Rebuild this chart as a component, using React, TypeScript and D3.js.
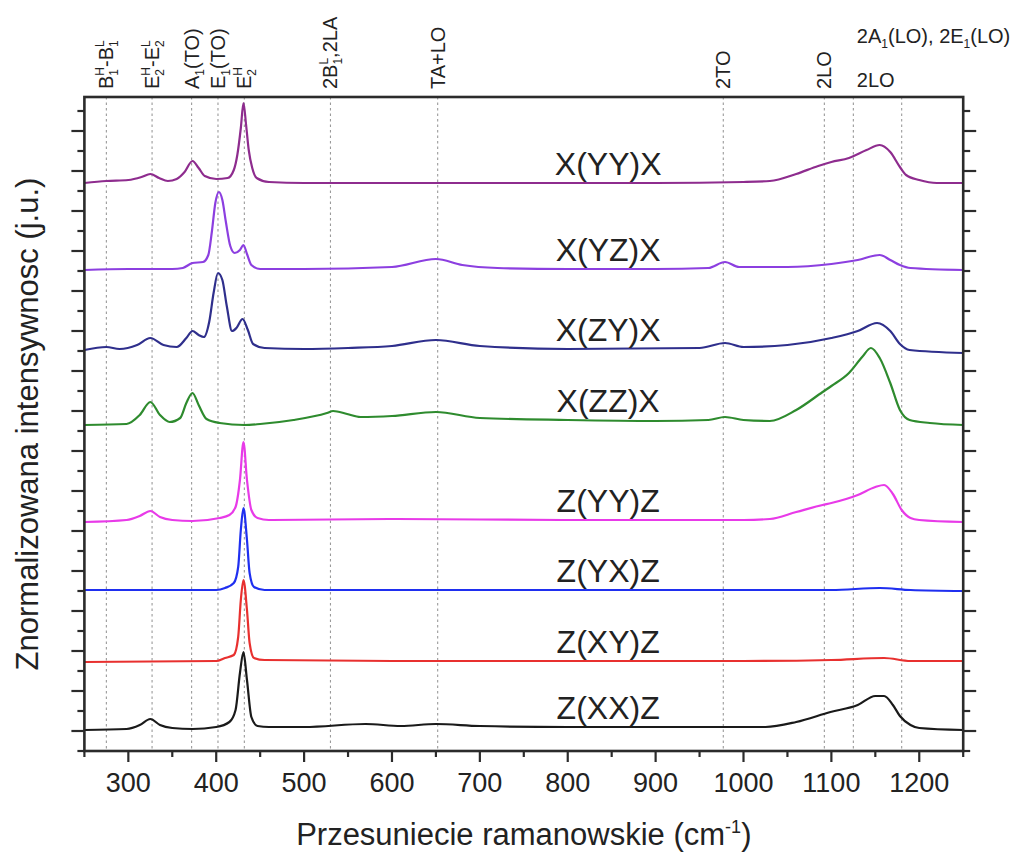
import React from 'react';
import * as d3 from 'd3';

type Pt = [number, number];

// ---- axes / ticks ----
const xDomain: [number, number] = [250, 1250];
const yDomain: [number, number] = [-1, 31.7];
const xMajorTicks = [300, 400, 500, 600, 700, 800, 900, 1000, 1100, 1200];
const xMinorTicks = [250, 350, 450, 550, 650, 750, 850, 950, 1050, 1150, 1250];
const yMajorTicks = [0, 2, 4, 6, 8, 10, 12, 14, 16, 18, 20, 22, 24, 26, 28, 30];
const yMinorTicks = [-1, 1, 3, 5, 7, 9, 11, 13, 15, 17, 19, 21, 23, 25, 27, 29, 31];

// ---- mode positions (dotted lines) ----
const modeLines = [275, 327, 372, 402, 432, 530, 652, 977, 1092, 1125, 1180];

// ---- series ----
const seriesNames = ['X(YY)X', 'X(YZ)X', 'X(ZY)X', 'X(ZZ)X', 'Z(YY)Z', 'Z(YX)Z', 'Z(XY)Z', 'Z(XX)Z'];
const seriesColors = ['#8e2c8e', '#8c3fe0', '#2f2f8c', '#2e8b2e', '#e83ae8', '#1f2ff0', '#e8302f', '#1a1a1a'];

const sXYYX: Pt[] = [
  [250, 27.4], [275, 27.5], [300, 27.55], [315, 27.7], [325, 27.85], [335, 27.65], [345, 27.5], [355, 27.6],
  [364, 27.95], [373, 28.5], [380, 28.15], [387, 27.75], [400, 27.6], [413, 27.65], [420, 28.05], [424, 28.8],
  [428, 30.15], [431, 31.4], [434, 30.3], [437, 29.05], [441, 28.15], [446, 27.65], [460, 27.45], [500, 27.4],
  [600, 27.4], [700, 27.4], [800, 27.4], [900, 27.4], [1000, 27.45], [1030, 27.5], [1060, 27.85], [1085, 28.25],
  [1100, 28.45], [1120, 28.65], [1140, 29.05], [1155, 29.3], [1167, 28.95], [1178, 28.2], [1185, 27.8],
  [1200, 27.55], [1220, 27.4], [1250, 27.4],
];
const sXYZX: Pt[] = [
  [250, 23.05], [300, 23.1], [350, 23.1], [362, 23.15], [373, 23.4], [385, 23.45], [391, 23.8], [395, 24.95],
  [399, 26.4], [403, 26.95], [407, 26.55], [411, 25.45], [416, 24.25], [421, 23.9], [427, 24.05], [431, 24.3],
  [435, 23.85], [440, 23.3], [450, 23.1], [500, 23.1], [600, 23.2], [650, 23.6], [680, 23.3], [720, 23.15],
  [800, 23.1], [900, 23.1], [960, 23.15], [979, 23.45], [995, 23.2], [1050, 23.2], [1100, 23.35], [1130, 23.55],
  [1155, 23.8], [1167, 23.55], [1178, 23.3], [1190, 23.15], [1250, 23.05],
];
const sXZYX: Pt[] = [
  [250, 19.05], [275, 19.2], [290, 19.1], [310, 19.3], [325, 19.65], [340, 19.3], [355, 19.2], [366, 19.65],
  [373, 20.0], [380, 19.8], [386, 19.7], [392, 20.45], [397, 21.9], [402, 22.9], [407, 22.55], [412, 21.25],
  [418, 20.0], [423, 20.15], [430, 20.6], [436, 20.05], [442, 19.35], [455, 19.15], [500, 19.1], [550, 19.15],
  [600, 19.25], [650, 19.55], [700, 19.25], [800, 19.1], [950, 19.15], [979, 19.4], [1000, 19.2], [1050, 19.3],
  [1100, 19.65], [1130, 20.0], [1152, 20.4], [1167, 20.0], [1178, 19.35], [1189, 19.05], [1250, 18.9],
];
const sXZZX: Pt[] = [
  [250, 15.3], [298, 15.35], [313, 15.8], [325, 16.45], [336, 15.8], [347, 15.45], [359, 15.65], [366, 16.4],
  [373, 16.9], [380, 16.3], [389, 15.6], [404, 15.4], [432, 15.3], [450, 15.35], [488, 15.55], [526, 15.9],
  [533, 16.0], [549, 15.85], [564, 15.7], [600, 15.75], [650, 15.95], [700, 15.65], [800, 15.55], [900, 15.5],
  [960, 15.55], [979, 15.7], [1000, 15.55], [1030, 15.5], [1060, 16.05], [1090, 16.95], [1100, 17.25],
  [1120, 17.9], [1135, 18.7], [1145, 19.15], [1155, 18.65], [1167, 17.4], [1178, 16.05], [1189, 15.55],
  [1212, 15.4], [1250, 15.3],
];
const sZYYZ: Pt[] = [
  [250, 10.45], [298, 10.55], [313, 10.75], [325, 11.0], [336, 10.7], [350, 10.55], [373, 10.5], [404, 10.65],
  [415, 10.8], [422, 11.2], [427, 12.55], [431, 14.45], [435, 12.55], [440, 11.05], [447, 10.65], [460, 10.55],
  [600, 10.6], [800, 10.55], [1000, 10.55], [1030, 10.6], [1060, 10.95], [1090, 11.3], [1100, 11.4],
  [1130, 11.8], [1150, 12.2], [1160, 12.3], [1170, 11.85], [1180, 11.05], [1190, 10.65], [1200, 10.55],
  [1250, 10.45],
];
const sZYXZ: Pt[] = [
  [250, 7.05], [400, 7.05], [410, 7.15], [420, 7.4], [425, 8.2], [428, 10.05], [431, 11.15], [435, 9.55],
  [438, 7.9], [443, 7.2], [455, 7.05], [600, 7.05], [800, 7.05], [1000, 7.05], [1100, 7.05], [1155, 7.15],
  [1190, 7.05], [1250, 7.0],
];
const sZXYZ: Pt[] = [
  [250, 3.45], [400, 3.5], [410, 3.65], [420, 3.8], [425, 4.7], [428, 6.55], [431, 7.55], [435, 6.05],
  [438, 4.4], [443, 3.65], [455, 3.55], [600, 3.5], [1000, 3.5], [1100, 3.55], [1160, 3.65], [1190, 3.5],
  [1250, 3.5],
];
const sZXXZ: Pt[] = [
  [250, 0.05], [298, 0.1], [313, 0.3], [325, 0.6], [336, 0.3], [350, 0.15], [373, 0.1], [400, 0.2],
  [415, 0.45], [422, 1.05], [427, 2.9], [431, 3.95], [435, 2.55], [440, 0.7], [447, 0.25], [460, 0.2],
  [500, 0.2], [570, 0.35], [610, 0.25], [650, 0.35], [700, 0.25], [800, 0.2], [1000, 0.2], [1025, 0.2],
  [1060, 0.45], [1099, 0.95], [1130, 1.3], [1150, 1.75], [1160, 1.75], [1170, 1.3], [1178, 0.75],
  [1190, 0.3], [1200, 0.15], [1250, 0.05],
];
const seriesData = [sXYYX, sXYZX, sXZYX, sXZZX, sZYYZ, sZYXZ, sZXYZ, sZXXZ];
const labelWn = 846;

// ---- mode labels (rotated) ----
type Part = [string, ('sub' | 'sup')?];
const modeLabels: { wn: number; parts: Part[] }[] = [
  { wn: 275, parts: [['B'], ['1', 'sub'], ['H', 'sup'], ['-B'], ['1', 'sub'], ['L', 'sup']] },
  { wn: 327, parts: [['E'], ['2', 'sub'], ['H', 'sup'], ['-E'], ['2', 'sub'], ['L', 'sup']] },
  { wn: 372, parts: [['A'], ['1', 'sub'], ['(TO)']] },
  { wn: 402, parts: [['E'], ['1', 'sub'], ['(TO)']] },
  { wn: 432, parts: [['E'], ['2', 'sub'], ['H', 'sup']] },
  { wn: 530, parts: [['2B'], ['1', 'sub'], ['L', 'sup'], [',2LA']] },
  { wn: 652, parts: [['TA+LO']] },
  { wn: 977, parts: [['2TO']] },
  { wn: 1092, parts: [['2LO']] },
];
const topRightLabel1: Part[] = [['2A'], ['1', 'sub'], ['(LO), 2E'], ['1', 'sub'], ['(LO)']];
const topRightLabel2: Part[] = [['2LO']];
const topRightWn = 1129;

const FONT = 'Liberation Sans, Arial, Helvetica, sans-serif';

function renderParts(parts: Part[], small: number) {
  let shift = 0;
  const out: React.ReactNode[] = [];
  parts.forEach((p, i) => {
    const [t, kind] = p;
    let target = 0;
    let dx = 0;
    if (kind === 'sub') target = 5;
    if (kind === 'sup') {
      target = -9;
      const prev = parts[i - 1];
      if (prev && prev[1] === 'sub') dx = -small * 0.56 * prev[0].length;
    }
    const dy = target - shift;
    shift = target;
    out.push(
      <tspan key={i} dy={dy} dx={dx || undefined} fontSize={kind ? small : undefined}>
        {t}
      </tspan>
    );
  });
  return out;
}

function interp(data: Pt[], wn: number) {
  for (let i = 1; i < data.length; i++) {
    if (data[i][0] >= wn) {
      const [x0, y0] = data[i - 1];
      const [x1, y1] = data[i];
      return y0 + ((wn - x0) / (x1 - x0)) * (y1 - y0);
    }
  }
  return data[data.length - 1][1];
}

export default function App() {
  const W = 1021;
  const H = 853;
  const x = d3.scaleLinear().domain(xDomain).range([84.4, 963.2]);
  const y = d3.scaleLinear().domain(yDomain).range([751, 97]);
  const line = d3
    .line<Pt>()
    .x((d) => x(d[0]))
    .y((d) => y(d[1]))
    .curve(d3.curveMonotoneX);

  const left = x(xDomain[0]);
  const right = x(xDomain[1]);
  const top = y(yDomain[1]);
  const bottom = y(yDomain[0]);
  const axisColor = '#2b2b2b';

  return (
    <svg
      width={W}
      height={H}
      style={{ position: 'absolute', left: 0, top: 0, background: '#fff' }}
      fontFamily={FONT}
    >
      <rect x={0} y={0} width={W} height={H} fill="#fff" />
      {/* dotted mode lines */}
      {modeLines.map((m) => (
        <line
          key={m}
          x1={x(m)}
          x2={x(m)}
          y1={top}
          y2={bottom}
          stroke="#9a9a9a"
          strokeWidth={1.1}
          strokeDasharray="2.5,3"
        />
      ))}
      {/* spectra */}
      {seriesData.map((d, i) => (
        <path key={i} d={line(d) || ''} fill="none" stroke={seriesColors[i]} strokeWidth={2.2} strokeLinejoin="round" />
      ))}
      {/* series labels */}
      {seriesData.map((d, i) => (
        <text
          key={'l' + i}
          x={x(labelWn)}
          y={y(interp(d, labelWn)) - 8}
          textAnchor="middle"
          fontSize={32}
          fill="#222"
        >
          {seriesNames[i]}
        </text>
      ))}
      {/* frame */}
      <rect x={left} y={top} width={right - left} height={bottom - top} fill="none" stroke={axisColor} strokeWidth={2.6} />
      {/* x ticks */}
      {xMajorTicks.map((t) => (
        <g key={'xm' + t}>
          <line x1={x(t)} x2={x(t)} y1={bottom} y2={bottom + 11} stroke={axisColor} strokeWidth={2.2} />
          <text x={x(t)} y={bottom + 41} textAnchor="middle" fontSize={27} fill="#222">
            {t}
          </text>
        </g>
      ))}
      {xMinorTicks.map((t) => (
        <line key={'xn' + t} x1={x(t)} x2={x(t)} y1={bottom} y2={bottom + 6} stroke={axisColor} strokeWidth={2.2} />
      ))}
      {/* y ticks (left and right, outward) */}
      {yMajorTicks.map((t) => (
        <g key={'ym' + t}>
          <line x1={left - 13} x2={left} y1={y(t)} y2={y(t)} stroke={axisColor} strokeWidth={2.2} />
          <line x1={right} x2={right + 13} y1={y(t)} y2={y(t)} stroke={axisColor} strokeWidth={2.2} />
        </g>
      ))}
      {yMinorTicks.map((t) => (
        <g key={'yn' + t}>
          <line x1={left - 7} x2={left} y1={y(t)} y2={y(t)} stroke={axisColor} strokeWidth={2.2} />
          <line x1={right} x2={right + 7} y1={y(t)} y2={y(t)} stroke={axisColor} strokeWidth={2.2} />
        </g>
      ))}
      {/* mode labels */}
      {modeLabels.map((m) => (
        <text
          key={'ml' + m.wn}
          transform={`translate(${x(m.wn) + 7},89) rotate(-90)`}
          fontSize={20}
          fill="#222"
        >
          {renderParts(m.parts, 12)}
        </text>
      ))}
      <text x={x(topRightWn)} y={43} fontSize={20} fill="#222">
        {renderParts(topRightLabel1, 12)}
      </text>
      <text x={x(topRightWn)} y={87} fontSize={20} fill="#222">
        {renderParts(topRightLabel2, 12)}
      </text>
      {/* axis titles */}
      <text x={(left + right) / 2} y={845} textAnchor="middle" fontSize={31} fill="#222">
        Przesuniecie ramanowskie (cm
        <tspan fontSize={18} dy={-12}>-1</tspan>
        <tspan dy={12}>)</tspan>
      </text>
      <text
        transform={`translate(38,${(top + bottom) / 2}) rotate(-90)`}
        textAnchor="middle"
        fontSize={31}
        fill="#222"
      >
        Znormalizowana intensywnosc (j.u.)
      </text>
    </svg>
  );
}
